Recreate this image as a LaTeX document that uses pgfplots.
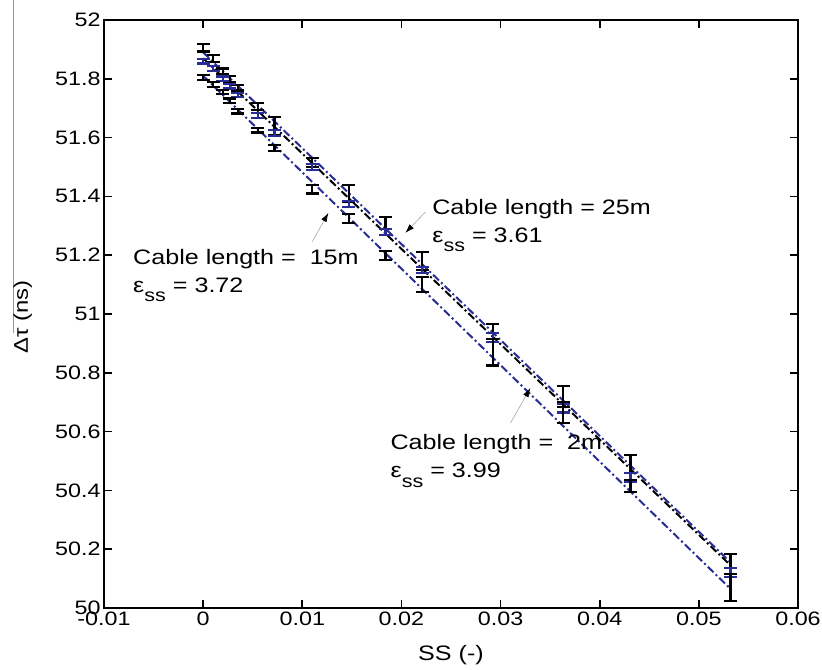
\documentclass[border=0pt]{standalone}
\usepackage{fontspec}
\setmainfont{Liberation Sans}[FakeStretch=1.2]
\usepackage{pgfplots}
\usepackage{pgfplotstable}
\pgfplotsset{compat=1.18}
\usetikzlibrary{arrows.meta}
\definecolor{mblue}{RGB}{40,45,150}

\pgfplotstableread{
x y e
0 51.905 0.012
0.001 51.87 0.012
0.002 51.825 0.01
0.0027 51.80 0.01
0.0035 51.77 0.01
0.0055 51.705 0.012
0.0072 51.64 0.03
0.011 51.515 0.015
0.0147 51.41 0.03
0.0184 51.30 0.03
0.0221 51.18 0.03
0.0292 50.94 0.025
0.0363 50.72 0.035
0.0431 50.49 0.03
0.0532 50.16 0.025
}\seriesA

\pgfplotstableread{
x y e
0 51.86 0.008
0.001 51.835 0.008
0.002 51.80 0.008
0.0027 51.775 0.008
0.0035 51.745 0.008
0.0055 51.675 0.008
0.0072 51.615 0.01
0.011 51.50 0.01
0.0147 51.375 0.01
0.0184 51.28 0.01
0.0221 51.15 0.01
0.0292 50.92 0.015
0.0363 50.68 0.015
0.0431 50.445 0.015
0.0532 50.12 0.015
}\seriesB

\pgfplotstableread{
x y e
0 51.805 0.008
0.001 51.78 0.008
0.002 51.755 0.008
0.0027 51.725 0.008
0.0035 51.69 0.008
0.0055 51.625 0.008
0.0072 51.565 0.01
0.011 51.425 0.015
0.0147 51.325 0.015
0.0184 51.20 0.015
0.0221 51.10 0.025
0.0292 50.87 0.045
0.0363 50.665 0.035
0.0431 50.415 0.02
0.0532 50.07 0.045
}\seriesC

\begin{document}
\begin{tikzpicture}
\useasboundingbox (-104bp,-62bp) rectangle (718bp,608bp);
\begin{axis}[
  at={(0,0)}, anchor=south west,
  scale only axis, width=694bp, height=588bp,
  xmin=-0.01, xmax=0.06, ymin=50, ymax=52,
  xtick={-0.01,0,0.01,0.02,0.03,0.04,0.05,0.06},
  ytick={50,50.2,50.4,50.6,50.8,51,51.2,51.4,51.6,51.8,52},
  scaled x ticks=false, scaled y ticks=false,
  tick align=inside,
  major tick length=8bp,
  axis line style={line width=1.6bp},
  every tick/.style={line width=1.6bp, black},
  tick label style={font=\fontsize{19.5}{21}\selectfont},
  /pgf/number format/assume math mode=true,
  xticklabel style={/pgf/number format/fixed, /pgf/number format/precision=2},
  yticklabel style={/pgf/number format/fixed, /pgf/number format/precision=1},
  xlabel={SS (-)},
  ylabel={Δτ (ns)},
  xlabel style={font=\fontsize{21}{23}\selectfont, at={(rel axis cs:0.5,-0.08)}, anchor=center},
  ylabel style={font=\fontsize{20}{22}\selectfont, at={(rel axis cs:-0.117,0.495)}, anchor=center},
  clip=false,
]
% fitted lines
\addplot[mblue, line width=2bp, dash pattern=on 8bp off 3bp on 2bp off 3bp] coordinates {(0,51.89) (0.0532,50.155)};
\addplot[black, line width=2bp, dash pattern=on 8bp off 3bp on 2bp off 3bp] coordinates {(0,51.87) (0.0532,50.145)};
\addplot[mblue, line width=2bp, dash pattern=on 8bp off 3bp on 2bp off 3bp] coordinates {(0,51.81) (0.0532,50.065)};
% error bars
\addplot[draw=none, mark=none, error bars/.cd, y dir=both, y explicit,
  error bar style={line width=2.2bp, black, solid}, error mark options={rotate=90, mark size=6.5bp, line width=2.2bp, black, solid}]
  table[x=x, y=y, y error=e] {\seriesA};
\addplot[draw=none, mark=none, error bars/.cd, y dir=both, y explicit,
  error bar style={line width=2.2bp, mblue, solid}, error mark options={rotate=90, mark size=6.5bp, line width=2.2bp, mblue, solid}]
  table[x=x, y=y, y error=e] {\seriesB};
\addplot[draw=none, mark=none, error bars/.cd, y dir=both, y explicit,
  error bar style={line width=2.2bp, black, solid}, error mark options={rotate=90, mark size=6.5bp, line width=2.2bp, black, solid}]
  table[x=x, y=y, y error=e] {\seriesC};
% annotations
\node[anchor=west, align=left, font=\fontsize{21}{28}\selectfont, inner sep=0pt] at (axis cs:0.0231,51.30)
  {Cable length = 25m\\ε\raisebox{-0.45em}{\fontsize{18}{18}\selectfont ss} = 3.61};
\node[anchor=west, align=left, font=\fontsize{21}{28}\selectfont, inner sep=0pt] at (axis cs:-0.00707,51.13)
  {Cable length =\ \ 15m\\ε\raisebox{-0.45em}{\fontsize{18}{18}\selectfont ss} = 3.72};
\node[anchor=west, align=left, font=\fontsize{21}{28}\selectfont, inner sep=0pt] at (axis cs:0.01889,50.50)
  {Cable length =\ \ 2m\\ε\raisebox{-0.45em}{\fontsize{18}{18}\selectfont ss} = 3.99};
\draw[gray!70, line width=0.6bp, -{Latex[black, length=9bp, width=6bp]}] (axis cs:0.02242,51.347) -- (axis cs:0.0204,51.276);
\draw[gray!70, line width=0.6bp, -{Latex[black, length=9bp, width=6bp]}] (axis cs:0.0110,51.245) -- (axis cs:0.01263,51.344);
\draw[gray!70, line width=0.6bp, -{Latex[black, length=9bp, width=6bp]}] (axis cs:0.0310,50.629) -- (axis cs:0.0330,50.748);
% stray overline of the y label
\draw[gray!80, line width=0.8bp] (rel axis cs:-0.131,0.468) -- (rel axis cs:-0.131,1.034);
\end{axis}
\end{tikzpicture}
\end{document}
